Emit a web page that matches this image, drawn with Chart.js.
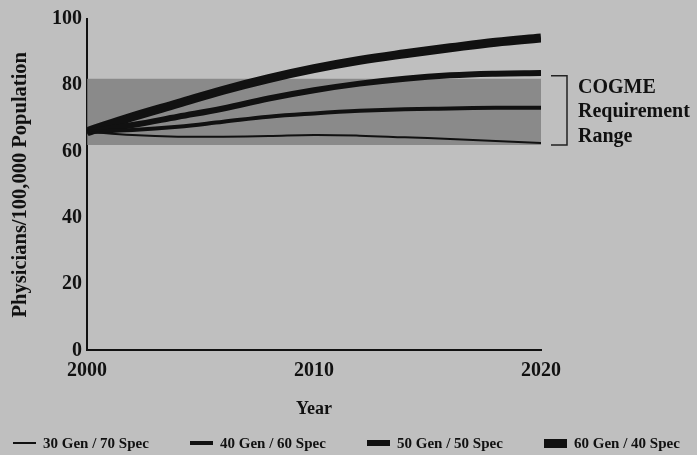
<!DOCTYPE html>
<html>
<head>
<meta charset="utf-8">
<script src="https://cdn.jsdelivr.net/npm/chart.js@4"></script>
<style>
  html, body { margin: 0; padding: 0; background: #bfbfbf; }
  #wrap { position: relative; width: 697px; height: 455px; }
  #legend {
    position: absolute; left: 13px; top: 433px; display: flex;
    font: bold 15px "Liberation Serif", serif; color: #111;
  }
  .item { width: 177px; display: flex; align-items: center; height: 20px; }
  .swatch { width: 23px; background: #111; margin-right: 7px; }
</style>
</head>
<body>
<div id="wrap">
  <canvas id="chart"></canvas>
  <div id="legend"></div>
</div>
<script>
const years = [2000, 2002, 2004, 2006, 2008, 2010, 2012, 2014, 2016, 2018, 2020];
const seriesNames = ['30 Gen / 70 Spec', '40 Gen / 60 Spec', '50 Gen / 50 Spec', '60 Gen / 40 Spec'];
const gen30 = [66, 65, 64.5, 64.5, 64.7, 65, 64.8, 64.3, 63.8, 63.2, 62.6];
const gen40 = [66, 66.5, 67.5, 69, 70.5, 71.5, 72.3, 72.8, 73, 73.2, 73.2];
const gen50 = [66, 68, 70.5, 73, 76, 78.5, 80.5, 82, 83, 83.5, 83.7];
const gen60 = [66, 70.5, 74.5, 78.5, 82, 85, 87.5, 89.5, 91.3, 93, 94.3];
const requirementRange = [62, 82];
const rangeLabel = ['COGME', 'Requirement', 'Range'];
const xTicks = [2000, 2010, 2020];
const yTicks = [0, 20, 40, 60, 80, 100];

const lineWidths = [2, 4, 6, 9];
const seriesValues = [gen30, gen40, gen50, gen60];
const toPoints = (vals) => vals.map((v, i) => ({ x: years[i], y: v }));
const serif = '"Liberation Serif", "Times New Roman", serif';

// bracket + label to the right of the shaded band
const rangeNote = {
  id: 'rangeNote',
  afterDraw(chart) {
    const { ctx, chartArea, scales: { y } } = chart;
    const top = y.getPixelForValue(requirementRange[1]) - 3;
    const bottom = y.getPixelForValue(requirementRange[0]);
    const left = chartArea.right + 10;
    const right = chartArea.right + 26;
    ctx.save();
    ctx.strokeStyle = '#222';
    ctx.lineWidth = 1.5;
    ctx.beginPath();
    ctx.moveTo(left, top);
    ctx.lineTo(right, top);
    ctx.lineTo(right, bottom);
    ctx.lineTo(left, bottom);
    ctx.stroke();
    ctx.fillStyle = '#111';
    ctx.font = 'bold 20px ' + serif;
    ctx.textBaseline = 'middle';
    rangeLabel.forEach((t, i) => ctx.fillText(t, right + 11, top + 12 + i * 24.5));
    ctx.restore();
  }
};

const datasets = seriesNames.map((name, i) => ({
  label: name,
  data: toPoints(seriesValues[i]),
  borderColor: '#111',
  borderWidth: lineWidths[i],
  pointRadius: 0,
  tension: 0.4,
  fill: false,
  order: 1
}));
datasets.push({
  label: 'range',
  data: [{ x: years[0], y: requirementRange[1] }, { x: years[years.length - 1], y: requirementRange[1] }],
  borderWidth: 0,
  pointRadius: 0,
  backgroundColor: '#8a8a8a',
  fill: { value: requirementRange[0] },
  order: 5
});

new Chart(document.getElementById('chart'), {
  type: 'line',
  data: { datasets },
  options: {
    responsive: true,
    maintainAspectRatio: false,
    animation: false,
    layout: { padding: { left: 6, right: 156, top: 19, bottom: 35 } },
    plugins: { legend: { display: false }, tooltip: { enabled: false } },
    scales: {
      x: {
        type: 'linear',
        min: 2000,
        max: 2020,
        afterBuildTicks: (axis) => { axis.ticks = xTicks.map((v) => ({ value: v })); },
        ticks: { color: '#111', padding: 8, font: { family: serif, size: 20, weight: 'bold' }, callback: (v) => String(v) },
        grid: { display: false, drawTicks: false },
        border: { color: '#111', width: 2 },
        title: { display: true, text: 'Year', color: '#111', padding: { top: 8, bottom: 0 }, font: { family: serif, size: 18, weight: 'bold' } }
      },
      y: {
        min: 0,
        max: 100,
        afterBuildTicks: (axis) => { axis.ticks = yTicks.map((v) => ({ value: v })); },
        ticks: { color: '#111', padding: 5, font: { family: serif, size: 20, weight: 'bold' } },
        grid: { display: false, drawTicks: false },
        border: { color: '#111', width: 2 },
        title: { display: true, text: 'Physicians/100,000 Population', color: '#111', padding: { top: 2, bottom: 14.5 }, font: { family: serif, size: 20.5, weight: 'bold' } }
      }
    }
  },
  plugins: [rangeNote]
});

document.getElementById('legend').innerHTML = seriesNames
  .map((name, i) => `<div class="item"><span class="swatch" style="height:${lineWidths[i]}px"></span>${name}</div>`)
  .join('');
</script>
</body>
</html>
